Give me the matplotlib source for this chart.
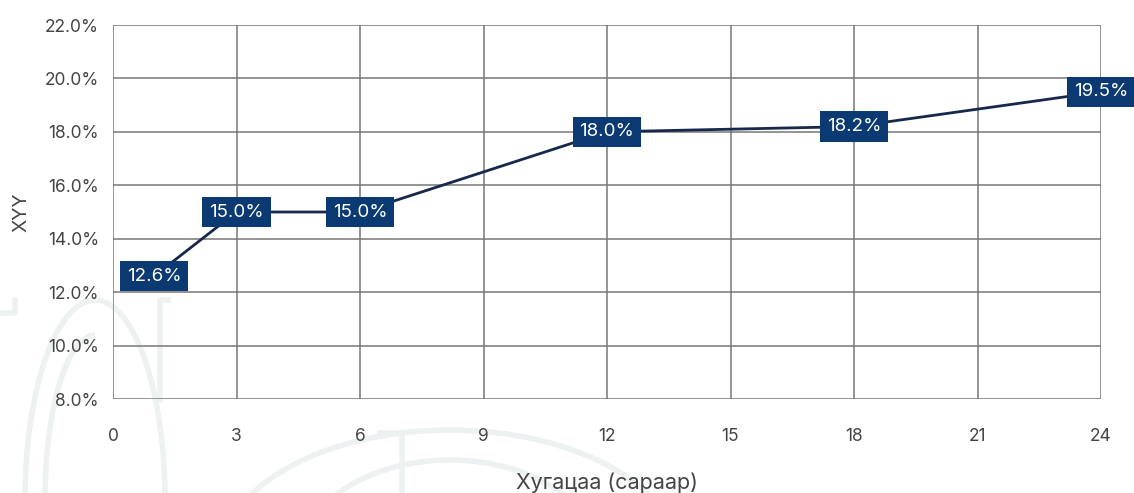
import matplotlib.pyplot as plt
from matplotlib.patches import Arc
from matplotlib.ticker import FuncFormatter

plt.rcParams['font.family'] = ['Inter', 'DejaVu Sans']

# term (months) vs rate (%)
months = [1, 3, 6, 12, 18, 24]
rates = [12.6, 15.0, 15.0, 18.0, 18.2, 19.5]
x_ticks = [0, 3, 6, 9, 12, 15, 18, 21, 24]
y_ticks = [8, 10, 12, 14, 16, 18, 20, 22]

navy = '#0b3a72'
line_col = '#17284d'
grid_col = '#777777'
text_col = '#444444'
faint = '#eef1f1'

W, H = 1134, 493
fig = plt.figure(figsize=(W / 100, H / 100), dpi=100)

# faint background ornament, in pixel-like coordinates (y down)
bg = fig.add_axes([0, 0, 1, 1], zorder=-1)
bg.set_xlim(0, W)
bg.set_ylim(H, 0)
bg.axis('off')
orn = dict(fill=False, edgecolor=faint, lw=4)
bg.add_patch(Arc((95, 500), 140, 400, theta1=180, theta2=360, **orn))
bg.add_patch(Arc((95, 500), 100, 330, theta1=180, theta2=270, **orn))
bg.plot([0, 15, 15], [313, 313, 300], color=faint, lw=4)
bg.plot([160, 160, 168], [400, 300, 300], color=faint, lw=4)
bg.add_patch(Arc((450, 560), 460, 260, theta1=180, theta2=360, **orn))
bg.add_patch(Arc((450, 560), 300, 200, theta1=200, theta2=340, **orn))
bg.plot([380, 402, 402], [433, 433, 493], color=faint, lw=4)

ax = fig.add_axes([113 / W, 1 - 399 / H, (1101 - 113) / W, (399 - 25) / H])
ax.patch.set_alpha(0)

ax.plot(months, rates, color=line_col, lw=2, zorder=3)
for m, r in zip(months, rates):
    ax.text(m, r, f'{r:.1f}%', ha='center', va='center', color='white',
            fontsize=13.5, zorder=4,
            bbox=dict(boxstyle='square,pad=0.36', fc=navy, ec='none'))

ax.set_xlim(0, 24)
ax.set_ylim(8, 22)
ax.set_xticks(x_ticks)
ax.set_yticks(y_ticks)
ax.yaxis.set_major_formatter(FuncFormatter(lambda v, _: f'{v:.1f}%'))
ax.grid(True, color=grid_col, lw=1.1)
ax.set_axisbelow(True)
for s in ax.spines.values():
    s.set_visible(False)
ax.tick_params(length=0, labelsize=12.5, colors=text_col)
ax.tick_params(axis='x', pad=21)
ax.tick_params(axis='y', pad=10)

ax.set_xlabel('Хугацаа (сараар)', fontsize=15.5, color=text_col, labelpad=20)
ax.set_ylabel('ХҮҮ', fontsize=14, color=text_col, labelpad=10)

fig.savefig('out.png', dpi=100)
